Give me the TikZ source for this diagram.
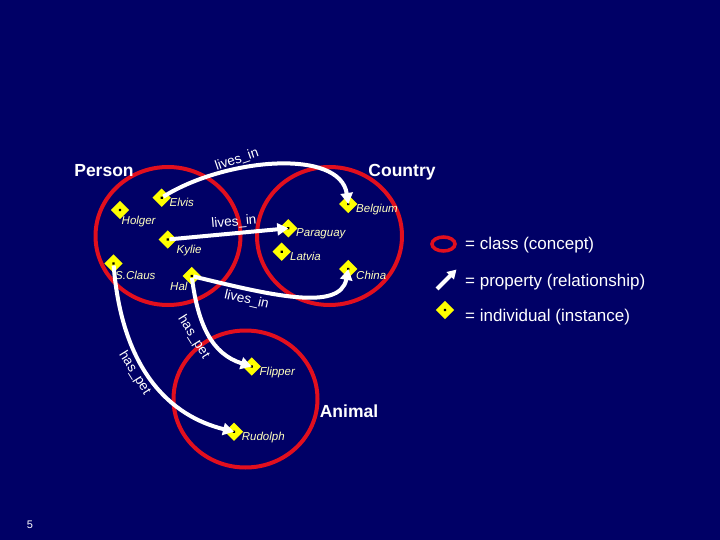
\documentclass[tikz,border=0pt]{standalone}
\usepackage{fontspec}
\setmainfont{Liberation Sans}
\usetikzlibrary{shapes.geometric,arrows.meta}
\definecolor{bg}{RGB}{0,0,102}
\definecolor{cred}{RGB}{225,15,30}
\definecolor{dyel}{RGB}{255,255,0}
\definecolor{lyel}{RGB}{255,255,190}
\begin{document}
\begin{tikzpicture}[x=1pt,y=-1pt,
  cls/.style={draw=cred,line width=4pt},
  ind/.style={rectangle,rotate=45,fill=dyel,minimum size=13pt,inner sep=0pt,
    path picture={\fill[black] (path picture bounding box.center) circle (1.5pt);}},
  indlbl/.style={anchor=base west,text=lyel,font=\fontsize{11.5}{13}\selectfont\itshape,inner sep=0pt},
  rel/.style={draw=white,line width=4pt,shorten <=2pt,-{Triangle[length=11pt,width=12pt]}},
  rellbl/.style={text=white,font=\fontsize{13.5}{15}\selectfont,inner sep=0pt},
  cname/.style={anchor=base,text=white,font=\fontsize{17.5}{20}\selectfont\bfseries,inner sep=0pt},
  legtxt/.style={anchor=base west,text=white,font=\fontsize{17}{20}\selectfont,inner sep=0pt}]
\useasboundingbox (0,0) rectangle (720,540);
\fill[bg] (0,0) rectangle (720,540);

% classes
\draw[cls] (168,236) ellipse [x radius=72.5, y radius=69];
\draw[cls] (329.5,236) ellipse [x radius=72.5, y radius=69];
\draw[cls] (245.5,399) ellipse [x radius=72, y radius=68.5];
\node[cname] (person) at (104,177) {Person};
\node[cname] (country) at (402,177) {Country};
\node[cname] (animal) at (349,417) {Animal};

% individuals
\node[ind] (elvis) at (161.7,197.7) {};
\node[ind] (holger) at (120,210) {};
\node[ind] (kylie) at (167.7,239.5) {};
\node[ind] (sclaus) at (113.5,263.5) {};
\node[ind] (hal) at (191.7,276) {};
\node[ind] (belgium) at (348.3,204) {};
\node[ind] (paraguay) at (288.3,228.3) {};
\node[ind] (latvia) at (281.7,251.7) {};
\node[ind] (china) at (348.3,269) {};
\node[ind] (flipper) at (251.7,366.5) {};
\node[ind] (rudolph) at (234,431.7) {};

\node[indlbl] (lelvis) at (169.5,206.5) {Elvis};
\node[indlbl] (lholger) at (121.5,224.5) {Holger};
\node[indlbl] (lkylie) at (176.5,254) {Kylie};
\node[indlbl] (lsclaus) at (115,279) {S.Claus};
\node[indlbl] (lhal) at (170,290.5) {Hal};
\node[indlbl] (lbelgium) at (356,213) {Belgium};
\node[indlbl] (lparaguay) at (296,236.5) {Paraguay};
\node[indlbl] (llatvia) at (290,260.5) {Latvia};
\node[indlbl] (lchina) at (356,279) {China};
\node[indlbl] (lflipper) at (259.5,375.5) {Flipper};
\node[indlbl] (lrudolph) at (241.7,440.5) {Rudolph};

% relations
\draw[rel] (elvis.center) .. controls (225,158) and (340,148) .. (belgium.center);
\draw[rel] (kylie.center) -- (paraguay.center);
\draw[rel] (hal.center) .. controls (270,295) and (340,312) .. (china.center);
\draw[rel] (hal.center) .. controls (198,325) and (212,354) .. (flipper.center);
\draw[rel] (sclaus.center) .. controls (122,370) and (170,416) .. (rudolph.center);

\node[rellbl,rotate=19] (r1) at (237,160) {lives\_in};
\node[rellbl,rotate=5] (r2) at (234,222.5) {lives\_in};
\node[rellbl,rotate=-13] (r3) at (246.5,300) {lives\_in};
\node[rellbl,rotate=-58] (r4) at (193.5,337) {has\_pet};
\node[rellbl,rotate=-58] (r5) at (134.5,373) {has\_pet};

% legend
\draw[draw=cred,line width=3.5pt] (443.5,244) ellipse [x radius=11.5, y radius=7];
\node[legtxt] (lg1) at (465,249) {= class (concept)};
\coordinate (lgA) at (437,289);
\coordinate (lgB) at (456.5,269.5);
\draw[draw=white,line width=4pt,-{Triangle[length=9pt,width=10pt]}] (lgA) -- (lgB);
\node[legtxt] (lg2) at (465,286) {= property (relationship)};
\node[ind] (lgind) at (445,310) {};
\node[legtxt] (lg3) at (465,321) {= individual (instance)};

\node[text=white,font=\fontsize{11}{13}\selectfont,inner sep=0pt] (page) at (30,524.5) {5};
\end{tikzpicture}
\end{document}
